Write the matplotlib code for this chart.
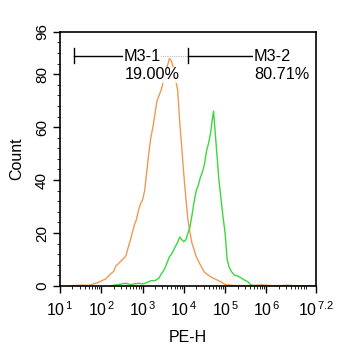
import numpy as np
import matplotlib
matplotlib.use("Agg")
import matplotlib.pyplot as plt
from matplotlib.ticker import FixedLocator, NullFormatter

plt.rcParams['font.family'] = ['Liberation Sans', 'DejaVu Sans']
plt.rcParams['mathtext.fontset'] = 'custom'
plt.rcParams['mathtext.rm'] = 'Liberation Sans'
plt.rcParams['mathtext.it'] = 'Liberation Sans'

# log10(PE-H) and counts
orange_logx = [1.2, 1.5, 1.7, 1.9, 2.0, 2.1, 2.2, 2.3, 2.35, 2.4, 2.45, 2.5, 2.55, 2.6, 2.65, 2.7,
               2.75, 2.8, 2.85, 2.9, 2.95, 3.0, 3.05, 3.1, 3.15, 3.2, 3.25, 3.3, 3.35, 3.4, 3.45,
               3.5, 3.55, 3.6, 3.65, 3.7, 3.75, 3.8, 3.85, 3.9, 3.95, 4.0, 4.05, 4.1, 4.15, 4.2,
               4.25, 4.3, 4.35, 4.4, 4.45, 4.5, 4.6, 4.7, 4.8, 4.9, 5.0, 5.2, 5.5, 5.9, 6.2, 6.5,
               6.8, 7.2]
orange_count = [0, 0.3, 0.2, 1.2, 1.9, 2.6, 4.2, 5.5, 7.5, 8.2, 9.0, 9.8, 10.5, 11.5, 14.5, 17,
                20, 23, 25, 28.5, 31, 32.5, 36, 43, 50, 56, 60, 65, 70, 72, 74,
                77, 80, 83, 86, 85, 82, 78, 74, 62, 52, 42, 33, 25, 20, 16,
                13.6, 11, 9.5, 8, 6.5, 5.2, 4, 3, 2.3, 1.5, 0.5, 0.2, 0.1, 0.4, 0, 0.3,
                0, 0]

green_logx = [2.2, 2.4, 2.5, 2.6, 2.7, 2.8, 2.9, 3.0, 3.1, 3.2, 3.3, 3.4, 3.45, 3.5, 3.55, 3.6,
              3.65, 3.7, 3.75, 3.8, 3.85, 3.9, 3.95, 4.0, 4.05, 4.1, 4.15, 4.2, 4.25, 4.3, 4.35,
              4.4, 4.45, 4.5, 4.55, 4.6, 4.65, 4.7, 4.72, 4.75, 4.8, 4.85, 4.9, 4.95, 5.0, 5.05,
              5.1, 5.15, 5.23, 5.3, 5.39, 5.47, 5.55, 5.63, 5.7, 6.0, 7.2]
green_count = [0, 0.5, 0.8, 1.0, 0.5, 0.8, 1.0, 0.8, 1.2, 2.0, 2.0, 3.0, 4.5, 5.5, 7, 9,
               11, 12, 13.5, 15, 16.5, 18.5, 17.5, 16.7, 17.5, 20, 22.4, 27, 32, 36, 38,
               41, 43, 46, 51, 54, 58, 64, 66, 60, 50, 40, 33, 26, 20, 10,
               7, 5.5, 4, 3.8, 3, 2.2, 1.6, 0.3, 0.1, 0, 0]

gate_names = ["M3-1", "M3-2"]
gate_pcts = ["19.00%", "80.71%"]
gate_starts = [1.34, 4.10]       # log10 of gate start (vertical bar)
gate_text_x = [2.54, 5.68]       # log10 where the gate label begins
gate_text_end = [3.38, None]     # log10 where the gate label ends
gate_level = 87

xtick_pos = [1, 2, 3, 4, 5, 6, 7.2]
xtick_lbl = [r'$10^{\,1}$', r'$10^{\,2}$', r'$10^{\,3}$', r'$10^{\,4}$', r'$10^{\,5}$',
             r'$10^{\,6}$', r'$10^{\,7.2}$']
ytick_pos = [0, 20, 40, 60, 80, 96]

fig = plt.figure(figsize=(3.43, 3.5), dpi=100)
ax = fig.add_axes([0.175, 0.183, 0.746, 0.726])

ax.plot(10 ** np.array(orange_logx), orange_count, color='#EE9A55', lw=1.0)
ax.plot(10 ** np.array(green_logx), green_count, color='#3BD83B', lw=1.0)

ax.set_xscale('log')
ax.set_xlim(10 ** 1, 10 ** 7.2)
ax.set_ylim(0, 96)

ax.xaxis.set_major_locator(FixedLocator([10 ** p for p in xtick_pos]))
ax.set_xticklabels(xtick_lbl, fontsize=11.5)
minors = []
for d in range(1, 8):
    for m in range(2, 10):
        v = m * 10 ** d
        if v < 10 ** 7.2:
            minors.append(v)
ax.xaxis.set_minor_locator(FixedLocator(minors))
ax.xaxis.set_minor_formatter(NullFormatter())

ax.set_yticks(ytick_pos)
ax.set_yticklabels([str(v) for v in ytick_pos], rotation=90, va='center', fontsize=11)
ax.yaxis.set_minor_locator(FixedLocator(list(range(0, 97, 4))))

ax.tick_params(axis='x', which='major', direction='out', length=5, width=1, pad=5)
ax.tick_params(axis='y', which='major', direction='out', length=5, width=1, pad=3)
ax.tick_params(axis='both', which='minor', direction='out', length=2.2, width=0.6)
for s in ax.spines.values():
    s.set_linewidth(1.2)

ax.set_xlabel('PE-H', fontsize=11.5, labelpad=8)
ax.set_ylabel('Count', fontsize=11.5, labelpad=8)

# gates
next_starts = gate_starts[1:] + [None]
for start, tx, tend, nxt, name, pct in zip(gate_starts, gate_text_x, gate_text_end,
                                            next_starts, gate_names, gate_pcts):
    ax.plot([10 ** start, 10 ** start], [gate_level - 2.8, gate_level + 2.8], color='black', lw=1.0)
    ax.plot([10 ** start, 10 ** (tx - 0.02)], [gate_level, gate_level], color='black', lw=1.0)
    if tend is not None and nxt is not None:
        ax.plot([10 ** tend, 10 ** nxt], [gate_level, gate_level], color='#bbbbbb', lw=0.8,
                linestyle=(0, (1, 1)))
    ax.text(10 ** tx, gate_level - 0.3, name, ha='left', va='center', fontsize=11.7,
            bbox=dict(facecolor='white', edgecolor='none', pad=0.3, alpha=0.9))
    ax.text(10 ** (tx + 0.03), gate_level - 7.2, pct, ha='left', va='center', fontsize=11.7,
            bbox=dict(facecolor='white', edgecolor='none', pad=0.3, alpha=0.85))

fig.savefig('out.png', dpi=100)
